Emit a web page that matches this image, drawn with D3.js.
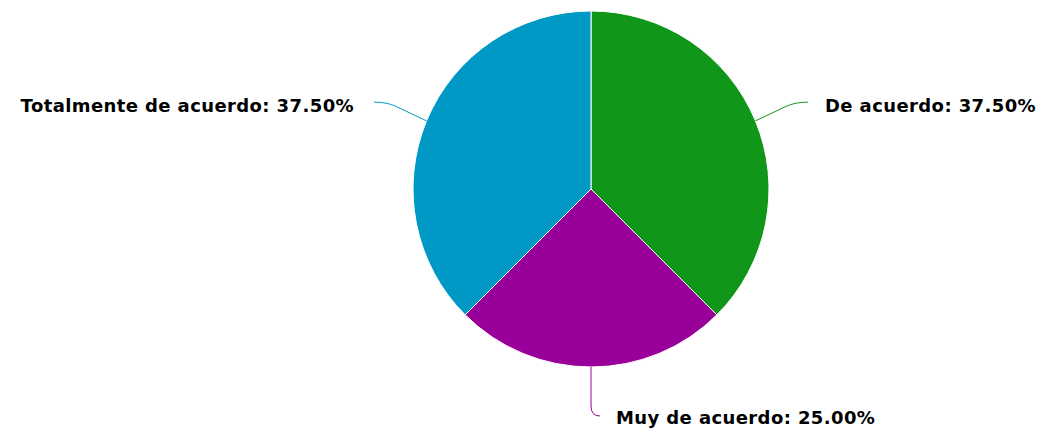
<!DOCTYPE html>
<html>
<head>
<meta charset="utf-8">
<script src="https://cdn.jsdelivr.net/npm/d3@7"></script>
<style>
  body { margin: 0; background: #fff; }
  text { font-family: 'DejaVu Sans', sans-serif; font-weight: bold; font-size: 18px; fill: #000; letter-spacing: 0.4px; }
</style>
</head>
<body>
<div id="chart"></div>
<script>
'use strict'

const categories = ['De acuerdo', 'Muy de acuerdo', 'Totalmente de acuerdo']
const values = [37.5, 25, 37.5]
const colors = ['#109618', '#990099', '#0099c6']

const chart_it = function(){
  const width = 1037
  const height = 432
  const cx = 591
  const cy = 189
  const radius = 178
  const labelRadius = radius + 49
  const total = d3.sum(values)

  const dataset = categories.map((c, i) => ({ label: c, count: values[i], color: colors[i] }))

  let svg = d3.select('#chart')
    .append('svg')
    .attr('width', width)
    .attr('height', height)
    .append('g')
    .attr('transform', 'translate(' + cx + ',' + cy + ')')

  let arc = d3.arc()
    .innerRadius(0)
    .outerRadius(radius)

  let pie = d3.pie()
    .value(d => d.count)
    .sort(null)

  const arcs = pie(dataset)

  svg.selectAll('path.slice')
    .data(arcs)
    .enter()
    .append('path')
    .attr('class', 'slice')
    .attr('d', arc)
    .attr('fill', d => d.data.color)
    .attr('stroke', '#fff')
    .attr('stroke-width', 1)

  // label geometry from mid angle
  const geom = function(d) {
    const a = (d.startAngle + d.endAngle) / 2
    const sx = radius * Math.sin(a)
    const sy = -radius * Math.cos(a)
    const ly = -labelRadius * Math.cos(a)
    let end, crook, tx, anchor
    if (Math.abs(Math.sin(a)) < 0.3) {
      // bottom / top label
      crook = [sx, ly]
      end = [sx + 9, ly]
      tx = end[0] + 16
      anchor = 'start'
    } else if (Math.sin(a) > 0) {
      end = [radius + 39, ly]
      crook = [end[0] - 13, ly]
      tx = end[0] + 17
      anchor = 'start'
    } else {
      end = [-radius - 39, ly]
      crook = [end[0] + 13, ly]
      tx = end[0] - 20
      anchor = 'end'
    }
    const dx = sx - crook[0], dy = sy - crook[1]
    const len = Math.sqrt(dx * dx + dy * dy)
    const before = [crook[0] + dx / len * 10, crook[1] + dy / len * 10]
    const path = 'M' + sx + ',' + sy + 'L' + before[0] + ',' + before[1] +
      'Q' + crook[0] + ',' + crook[1] + ' ' + end[0] + ',' + end[1]
    return { path: path, tx: tx, ty: ly + (anchor === 'end' || Math.sin(a) > 0.3 ? 4 : 2), anchor: anchor }
  }

  svg.selectAll('path.connector')
    .data(arcs)
    .enter()
    .append('path')
    .attr('class', 'connector')
    .attr('d', d => geom(d).path)
    .attr('fill', 'none')
    .attr('stroke', d => d.data.color)
    .attr('stroke-width', 1)

  svg.selectAll('text.label')
    .data(arcs)
    .enter()
    .append('text')
    .attr('class', 'label')
    .attr('x', d => geom(d).tx)
    .attr('y', d => geom(d).ty)
    .attr('dy', '0.35em')
    .attr('text-anchor', d => geom(d).anchor)
    .text(d => d.data.label + ': ' + (d.data.count / total * 100).toFixed(2) + '%')
}

chart_it()
</script>
</body>
</html>
